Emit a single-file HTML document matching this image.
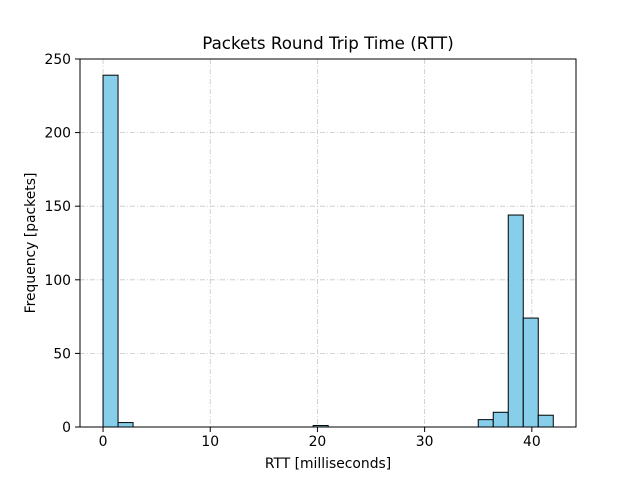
<!DOCTYPE html>
<html><head><meta charset="utf-8"><style>
body{margin:0;background:#fff}
svg text{font-family:"DejaVu Sans","Liberation Sans",sans-serif;fill:#000}
</style></head><body>
<svg id="c" width="640" height="480"></svg>
<script>
const binEdgesStart = 0;
const binWidth = 1.4;
const counts = [239,3,0,0,0,0,0,0,0,0,0,0,0,0,1,0,0,0,0,0,0,0,0,0,0,5,10,144,74,8];
const xTicks = [0,10,20,30,40];
const yTicks = [0,50,100,150,200,250];
const L=80,R=576,T=59,B=427,xmin=-2.15,xmax=44.12,ymin=0,ymax=250;
const X=v=>L+(v-xmin)/(xmax-xmin)*(R-L);
const Y=v=>B-(v-ymin)/(ymax-ymin)*(B-T);
const svg=document.getElementById('c');const NS='http://www.w3.org/2000/svg';
function mk(t,a,p){const e=document.createElementNS(NS,t);for(const k in a)e.setAttribute(k,a[k]);(p||svg).appendChild(e);return e;}
mk('rect',{x:0,y:0,width:640,height:480,fill:'#fff'});
const grid=mk('g',{});


xTicks.forEach(v=>mk('line',{x1:X(v),x2:X(v),y1:T,y2:B,stroke:'#b0b0b0','stroke-width':0.8,'stroke-dasharray':'5,2,1,2',opacity:0.7},grid));
yTicks.forEach(v=>mk('line',{x1:L,x2:R,y1:Y(v),y2:Y(v),stroke:'#b0b0b0','stroke-width':0.8,'stroke-dasharray':'5,2,1,2',opacity:0.7},grid));
counts.forEach((c,i)=>{const x0=binEdgesStart+i*binWidth;
 const r=mk('rect',{x:X(x0),y:Y(c),width:X(x0+binWidth)-X(x0),height:Y(0)-Y(c),fill:'#87ceeb',stroke:'#000','stroke-width':1});
 
 });
const fr=mk('rect',{x:L,y:T,width:R-L,height:B-T,fill:'none',stroke:'#000','stroke-width':1});


xTicks.forEach(v=>{mk('line',{x1:X(v),x2:X(v),y1:B,y2:B+5,stroke:'#000','stroke-width':1});
 const t=mk('text',{x:X(v),y:B+19,'text-anchor':'middle','font-size':13.9});t.textContent=v;
 
 });
yTicks.forEach(v=>{mk('line',{x1:L-5,x2:L,y1:Y(v),y2:Y(v),stroke:'#000','stroke-width':1});
 const t=mk('text',{x:L-9,y:Y(v)+5,'text-anchor':'end','font-size':13.9});t.textContent=v;
 
 });
let t=mk('text',{x:328,y:49,'text-anchor':'middle','font-size':16.7});t.textContent='Packets Round Trip Time (RTT)';


t=mk('text',{x:328,y:468,'text-anchor':'middle','font-size':13.9});t.textContent='RTT [milliseconds]';


t=mk('text',{x:0,y:0,'text-anchor':'middle','font-size':13.9,transform:'translate(35,243) rotate(-90)'});t.textContent='Frequency [packets]';


</script>
</body></html>
